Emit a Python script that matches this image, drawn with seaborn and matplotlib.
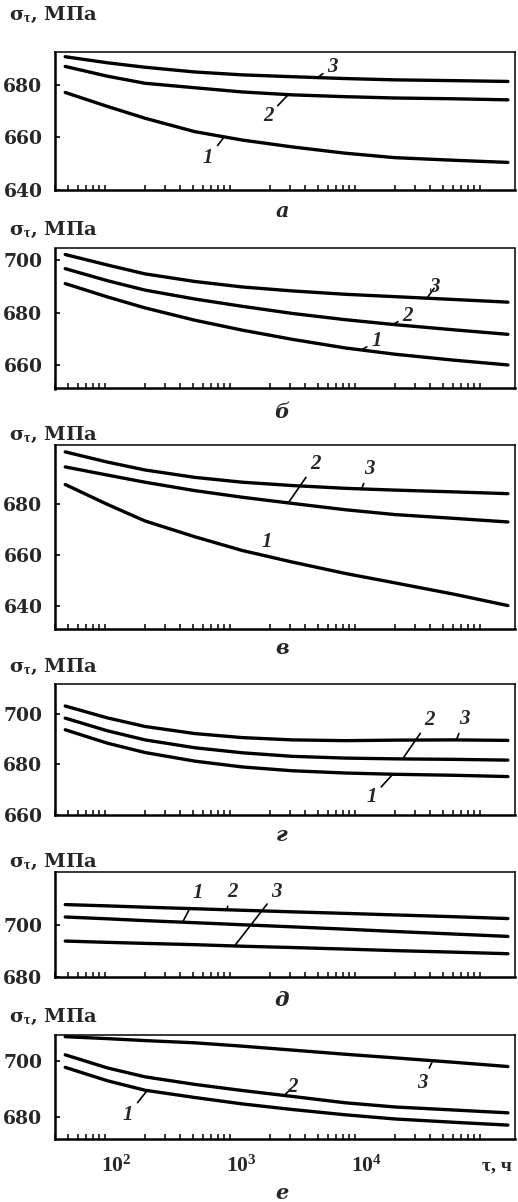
import numpy as np
import pandas as pd
import matplotlib
matplotlib.use("Agg")
import matplotlib.pyplot as plt
import matplotlib.transforms as mtransforms
from matplotlib.ticker import FixedLocator, NullFormatter
import seaborn as sns

# ---- data: creep stress vs. time (hours), three curves per panel ----
hours = [23, 50, 100, 250, 600, 1500, 4000, 10000, 30000, 80000]

a_1 = [677.1, 671.8, 667.3, 662.2, 659.0, 656.4, 654.0, 652.3, 651.3, 650.5]
a_2 = [687.0, 683.3, 680.6, 678.9, 677.3, 676.2, 675.5, 675.0, 674.7, 674.3]
a_3 = [690.7, 688.4, 686.7, 684.9, 683.8, 683.1, 682.4, 681.9, 681.6, 681.3]

b_1 = [691.1, 686.0, 681.8, 677.1, 673.3, 669.8, 666.5, 664.1, 661.8, 660.0]
b_2 = [696.8, 692.2, 688.6, 685.2, 682.4, 679.7, 677.3, 675.4, 673.4, 671.7]
b_3 = [702.2, 698.2, 694.8, 691.9, 689.8, 688.3, 687.0, 686.1, 685.0, 684.0]

v_1 = [687.5, 679.7, 673.2, 667.0, 661.6, 657.1, 652.6, 648.9, 644.4, 640.0]
v_2 = [694.4, 691.2, 688.4, 685.1, 682.5, 680.1, 677.6, 675.7, 674.2, 672.8]
v_3 = [700.3, 696.3, 693.2, 690.3, 688.4, 687.1, 686.0, 685.3, 684.6, 683.9]

g_1 = [693.7, 688.4, 684.7, 681.3, 679.0, 677.5, 676.6, 676.1, 675.7, 675.2]
g_2 = [698.3, 693.3, 689.7, 686.6, 684.6, 683.2, 682.5, 682.2, 682.0, 681.7]
g_3 = [703.1, 698.4, 695.0, 692.2, 690.6, 689.7, 689.4, 689.6, 689.7, 689.5]

d_1 = [703.2, 702.5, 701.8, 701.0, 700.2, 699.4, 698.5, 697.6, 696.6, 695.7]
d_2 = [708.0, 707.5, 707.0, 706.4, 705.8, 705.2, 704.6, 704.0, 703.3, 702.6]
d_3 = [693.9, 693.4, 693.0, 692.5, 691.9, 691.4, 690.8, 690.2, 689.6, 689.0]

e_1 = [697.7, 692.9, 689.5, 686.9, 684.6, 682.6, 680.7, 679.2, 678.0, 677.0]
e_2 = [702.2, 697.5, 694.3, 691.6, 689.4, 687.3, 685.0, 683.5, 682.4, 681.4]
e_3 = [708.7, 708.0, 707.3, 706.5, 705.3, 703.9, 702.4, 701.1, 699.5, 698.0]

panel_letters = ["а", "б", "в", "г", "д", "е"]
y_ticks = [[640, 660, 680], [660, 680, 700], [640, 660, 680],
           [660, 680, 700], [680, 700], [680, 700]]
x_tick_values = [100, 1000, 10000]
x_tick_labels = [r"$10^{2}$", r"$10^{3}$", r"$10^{4}$"]
y_label = "σ$_{τ}$, МПа"
x_label = "τ, ч"

# ---- style ----
sns.set_theme(style="white")
plt.rcParams["font.family"] = ["Liberation Serif", "DejaVu Serif"]
plt.rcParams["mathtext.fontset"] = "custom"
plt.rcParams["mathtext.bf"] = "Liberation Serif:bold"
plt.rcParams["mathtext.rm"] = "Liberation Serif:bold"
plt.rcParams["mathtext.it"] = "Liberation Serif:bold:italic"
plt.rcParams["mathtext.default"] = "bf"
plt.rcParams["axes.edgecolor"] = "black"

W, H = 518, 1202
fig = plt.figure(figsize=(W / 100, H / 100), dpi=100)

# layout of each panel in pixels: (axes top, axes bottom, y-limits, y-label y, letter y)
layout = [
    (52, 190, (640, 692.5), 15, 211),
    (248.5, 388.5, (651, 704.5), 230, 412),
    (445, 628.5, (631, 703), 435, 648),
    (684, 815, (660, 711.8), 667, 835),
    (872, 977, (680, 720.6), 862, 1000),
    (1035, 1138.5, (672.2, 709.3), 1017, 1193),
]

curves = [(a_1, a_2, a_3), (b_1, b_2, b_3), (v_1, v_2, v_3),
          (g_1, g_2, g_3), (d_1, d_2, d_3), (e_1, e_2, e_3)]

# curve number callouts: (label, curve index, time on curve, offset dx, dy in px)
callouts = [
    [("3", 2, 2400, 15, 11), ("2", 1, 1400, -20, -21), ("1", 0, 430, -16, -21)],
    [("3", 2, 18000, 8, 11), ("2", 1, 9600, 15, 8), ("1", 0, 5400, 15, 9)],
    [("2", 1, 1400, 27, 39), ("3", 2, 5400, 8, 20), ("1", 0, 800, 9, 12)],
    [("2", 1, 11500, 27, 39), ("3", 2, 31000, 8, 21), ("1", 0, 9600, -21, -23)],
    [("1", 0, 200, 15, 29), ("2", 1, 450, 6, 18), ("3", 2, 520, 42, 54)],
    [("3", 2, 20000, -10, -22), ("2", 1, 1300, 8, 8), ("1", 0, 104, -19, -24)],
]

tick_fr = [0.16, 0.28, 0.38, 0.46, 0.53, 0.58, 0.63, 0.68]
minor_ticks = [10 ** (d + f) for d in range(1, 5) for f in tick_fr]

ax_left, ax_w = 55, 460
for i, (top, bot, ylim, ylab_y, let_y) in enumerate(layout):
    ax = fig.add_axes([ax_left / W, 1 - bot / H, ax_w / W, (bot - top) / H])
    for c in curves[i]:
        sns.lineplot(x=hours, y=c, ax=ax, color="black", lw=2.4,
                     solid_capstyle="round")
    ax.set_xscale("log")
    ax.set_xlim(19.05, 91200)
    ax.set_ylim(*ylim)
    ax.set_xlabel("")
    ax.set_ylabel("")

    ax.xaxis.set_major_locator(FixedLocator([10, 100, 1000, 10000]))
    ax.xaxis.set_minor_locator(FixedLocator(minor_ticks))
    ax.xaxis.set_major_formatter(NullFormatter())
    ax.xaxis.set_minor_formatter(NullFormatter())
    ax.tick_params(axis="x", which="both", direction="in", length=3.8,
                   width=1.1, bottom=True, top=False, color="black")

    ax.set_yticks(y_ticks[i])
    ax.set_yticklabels([str(v) for v in y_ticks[i]])
    ax.tick_params(axis="y", direction="in", length=3.5, width=1.2,
                   left=True, pad=9, labelsize=13.5, color="black")
    for lbl in ax.get_yticklabels():
        lbl.set_fontfamily("DejaVu Serif")
        lbl.set_fontweight("bold")

    for side in ("left", "bottom"):
        ax.spines[side].set_linewidth(1.8)
    for side in ("top", "right"):
        ax.spines[side].set_linewidth(1.1)

    # curve number callouts with short leader strokes
    for txt, ci, t, dx, dy in callouts[i]:
        yv = np.interp(np.log10(t), np.log10(hours), curves[i][ci])
        ax.annotate(txt, xy=(t, yv), xytext=(dx, dy), textcoords="offset pixels",
                    ha="center", va="center", fontsize=15, fontweight="bold",
                    fontstyle="italic", family="Liberation Serif",
                    arrowprops=dict(arrowstyle="-", lw=1.2, color="black",
                                    shrinkA=1, shrinkB=0))

    fig.text(9 / W, 1 - ylab_y / H, y_label, ha="left", va="center",
             fontsize=14, fontweight="bold", family="DejaVu Serif")
    fig.text(282 / W, 1 - let_y / H, panel_letters[i], ha="center", va="center",
             fontsize=15, fontweight="bold", fontstyle="italic",
             family="DejaVu Serif")

    if i == len(layout) - 1:
        shift = mtransforms.ScaledTranslation(-29 / 100, -28 / 100, fig.dpi_scale_trans)
        trans = ax.get_xaxis_transform() + shift
        for xv, lab in zip(x_tick_values, x_tick_labels):
            ax.text(xv, 0, lab, transform=trans, ha="center", va="center",
                    fontsize=15.5)
        fig.text(497 / W, 1 - 1166 / H, x_label, ha="center", va="center",
                 fontsize=14, fontweight="bold", family="Liberation Serif")

fig.savefig("out.png", dpi=100, facecolor="white")
